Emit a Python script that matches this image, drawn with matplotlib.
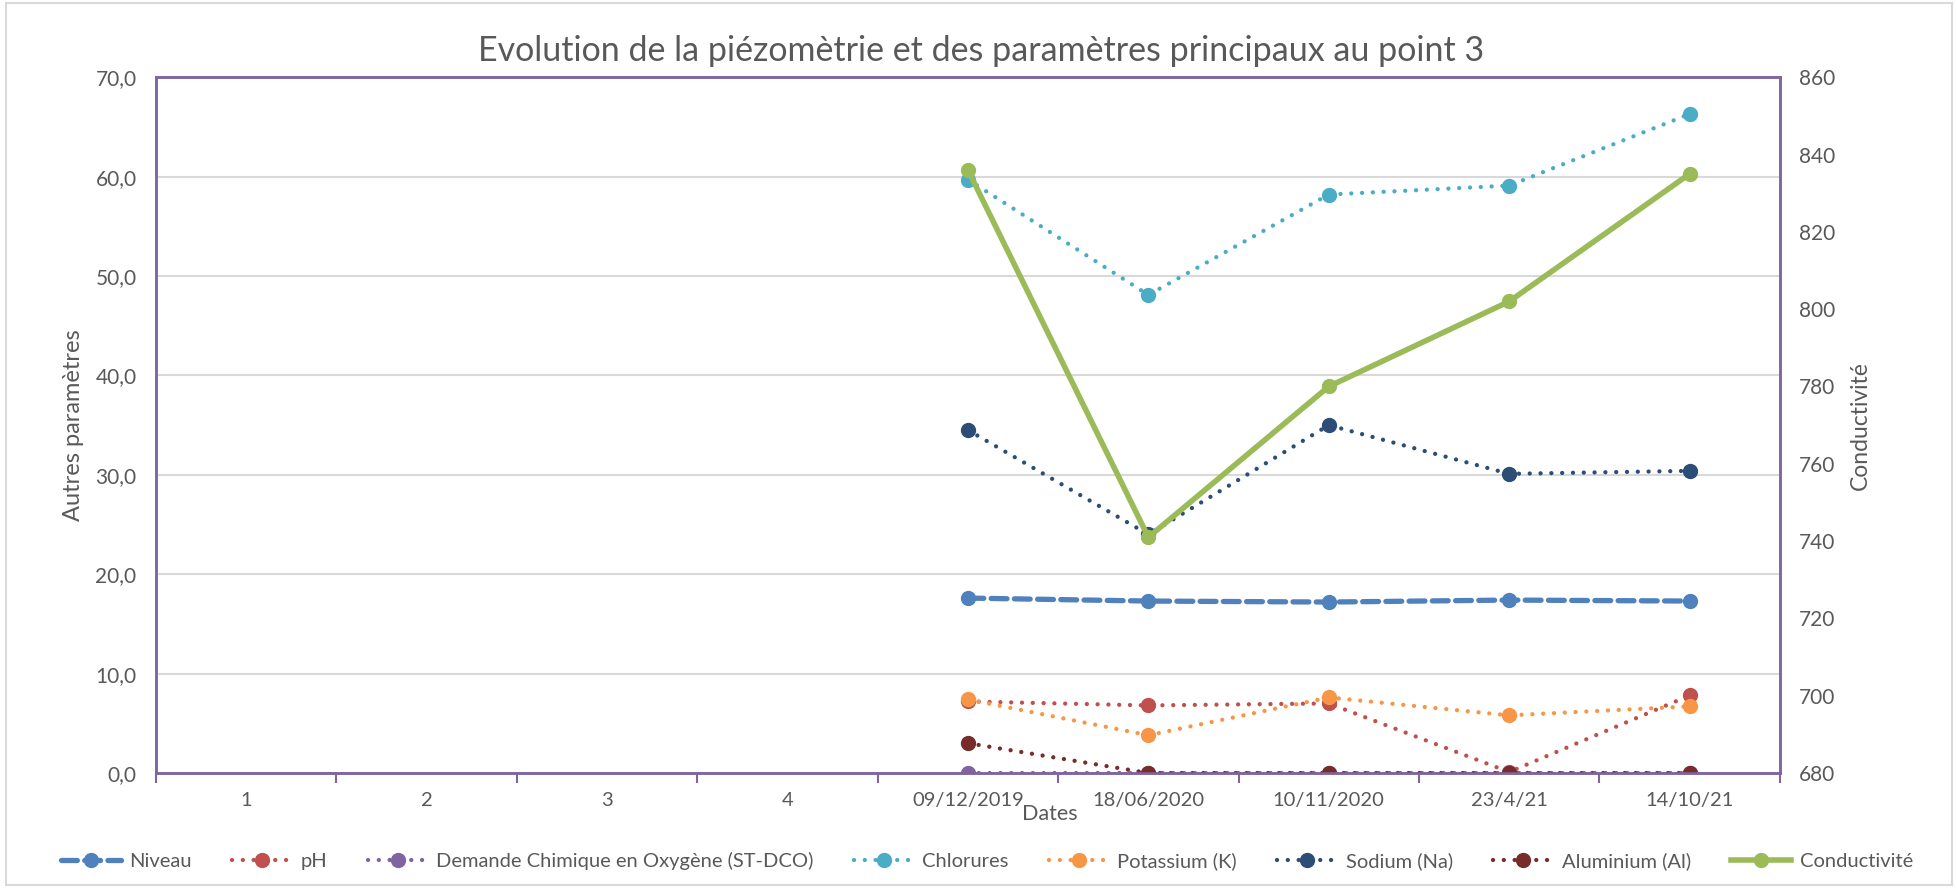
"""Evolution de la piézométrie et des paramètres principaux au point 3."""

from __future__ import annotations

import matplotlib

matplotlib.use("Agg")
import matplotlib.pyplot as plt
import numpy as np
from matplotlib.lines import Line2D
from matplotlib.patches import Rectangle
from matplotlib.ticker import FuncFormatter, MultipleLocator

plt.rcParams["font.family"] = ["Lato", "DejaVu Sans"]

CATEGORIES = ["1", "2", "3", "4", "09/12/2019", "18/06/2020", "10/11/2020", "23/4/21", "14/10/21"]
N_EMPTY = 4  # first four categories have no measurement

NIVEAU = [17.6, 17.3, 17.2, 17.4, 17.3]
PH = [7.2, 6.8, 7.0, 0.1, 7.8]
DCO = [0.0, 0.0, 0.0, 0.0, 0.0]
CHLORURES = [59.7, 48.1, 58.2, 59.1, 66.3]
POTASSIUM = [7.4, 3.8, 7.6, 5.8, 6.7]
SODIUM = [34.5, 24.0, 35.0, 30.1, 30.4]
ALUMINIUM = [3.0, 0.0, 0.0, 0.0, 0.0]
CONDUCTIVITE = [836, 741, 780, 802, 835]

TITLE = "Evolution de la piézomètrie et des paramètres principaux au point 3"
GREY_TXT = "#595959"
AXIS_PURPLE = "#8064A2"

DOT = (0, (0.01, 2.5))
DASH = (0, (3.0, 1.4))

SERIES = [
    ("Niveau", NIVEAU, "#4F81BD", DASH, 3.8),
    ("pH", PH, "#C0504D", DOT, 3.1),
    ("Demande Chimique en Oxygène (ST-DCO)", DCO, "#8064A2", DOT, 3.1),
    ("Chlorures", CHLORURES, "#4BACC6", DOT, 3.1),
    ("Potassium (K)", POTASSIUM, "#F79646", DOT, 3.1),
    ("Sodium (Na)", SODIUM, "#2C4D75", DOT, 3.1),
    ("Aluminium (Al)", ALUMINIUM, "#772C2A", DOT, 3.1),
]


def main() -> int:
    fig = plt.figure(figsize=(19.58, 8.88), dpi=100)
    fig.patches.append(Rectangle((0.003, 0.003), 0.994, 0.994, transform=fig.transFigure,
                                 fill=False, edgecolor="#D9D9D9", linewidth=1.5))
    ax = fig.add_axes([0.0797, 0.1295, 0.8293, 0.7835])
    ax2 = ax.twinx()

    x_all = np.arange(len(CATEGORIES))
    x_data = x_all[N_EMPTY:]

    handles = []
    for name, values, color, ls, lw in SERIES:
        ax.plot(x_data, values, color=color, linestyle=ls, linewidth=lw,
                dash_capstyle="round", solid_capstyle="round", zorder=3)
        ax.plot(x_data, values, "o", color=color, markersize=10, zorder=4)
        handles.append(Line2D([], [], color=color, linestyle=ls, linewidth=lw,
                              dash_capstyle="round", marker="o", markersize=10))

    ax2.plot(x_data, CONDUCTIVITE, "o-", color="#9BBB59", linewidth=4.0, markersize=10, zorder=5)
    handles.append(Line2D([], [], color="#9BBB59", linewidth=4.0, marker="o", markersize=10))

    ax.set_xlim(-0.5, len(CATEGORIES) - 0.5)
    ax.set_ylim(0, 70)
    ax2.set_ylim(680, 860)
    ax.yaxis.set_major_locator(MultipleLocator(10))
    ax.yaxis.set_major_formatter(FuncFormatter(lambda v, _: f"{v:.1f}".replace(".", ",")))
    ax2.yaxis.set_major_locator(MultipleLocator(20))

    ax.set_xticks(x_all)
    ax.set_xticklabels(CATEGORIES)
    ax.set_xticks(np.arange(-0.5, len(CATEGORIES)), minor=True)
    ax.tick_params(axis="x", which="major", length=0, pad=14, labelsize=14.5, labelcolor=GREY_TXT)
    ax.tick_params(axis="x", which="minor", length=7, width=1.5, color=AXIS_PURPLE, direction="out")
    ax.tick_params(axis="y", length=0, pad=14, labelsize=15, labelcolor=GREY_TXT)
    ax2.tick_params(axis="y", length=0, pad=14, labelsize=15, labelcolor=GREY_TXT)

    ax.grid(axis="y", color="#D9D9D9", linewidth=1.5)
    ax.set_axisbelow(True)
    for a in (ax, ax2):
        for sp in a.spines.values():
            sp.set_color(AXIS_PURPLE)
            sp.set_linewidth(1.8)

    ax.set_ylabel("Autres paramètres", fontsize=17, color=GREY_TXT, labelpad=8)
    ax2.set_ylabel("Conductivité", fontsize=16.5, color=GREY_TXT, labelpad=10)
    fig.text(0.536, 0.083, "Dates", fontsize=15.5, color=GREY_TXT, ha="center", va="center")
    fig.text(0.501, 0.943, TITLE, fontsize=24.5, color=GREY_TXT, ha="center", va="center")

    fig.legend(handles, [s[0] for s in SERIES] + ["Conductivité"], loc="center",
               bbox_to_anchor=(0.504, 0.030), ncol=8, frameon=False, fontsize=14.5,
               labelcolor=GREY_TXT, handlelength=3.0, handletextpad=0.4, columnspacing=2.0)

    fig.savefig("out.png", dpi=100)
    plt.close(fig)
    return 0


if __name__ == "__main__":
    raise SystemExit(main())
